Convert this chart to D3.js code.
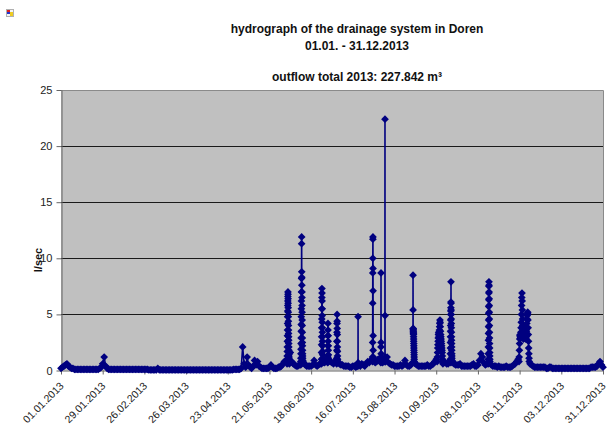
<!DOCTYPE html>
<html lang="en">
<head>
  <meta charset="UTF-8">
  <title>Hydrograph Doren 2013</title>
  <script src="https://d3js.org/d3.v7.min.js"></script>
  <style>
    body { margin: 0; background: #fff; }
    svg { font-family: Arial, "Liberation Sans", sans-serif; }
    .title { font-size: 12px; font-weight: bold; fill: #111; }
    .axis text { font-size: 11px; fill: #222; }
    .x-axis text { font-size: 10.5px; }
    .y-label { font-size: 11px; font-weight: bold; fill: #111; }
  </style>
</head>
<body>
  <svg id="chart" width="607" height="432"></svg>

  <script>
    // x axis tick dates (every 28 days)
    const tickDates = ["2013-01-01", "2013-01-29", "2013-02-26", "2013-03-26", "2013-04-23",
                       "2013-05-21", "2013-06-18", "2013-07-16", "2013-08-13", "2013-09-10",
                       "2013-10-08", "2013-11-05", "2013-12-03", "2013-12-31"];
    const yTicks = [0, 5, 10, 15, 20, 25];

    // daily base flow in l/sec, one value per day (Jan 1 .. Dec 31)
    const dailyFlow = [
      // Jan
      0.2,0.3,0.4,0.5,0.6,0.4,0.3,0.2,0.2,0.1, 0.1,0.1,0.1,0.1,0.1,0.1,0.1,0.1,0.1,0.1,
      0.1,0.1,0.1,0.1,0.1,0.1,0.2,0.3,0.6,1.2, 0.4,
      // Feb
      0.2,0.1,0.1,0.1,0.1,0.1,0.1,0.1,0.1,0.1, 0.1,0.1,0.1,0.1,0.1,0.1,0.1,0.1,0.1,0.1,
      0.1,0.1,0.1,0.1,0.1,0.1,0.1,0.1,
      // Mar
      0.05,0.05,0.05,0.05,0.05,0.05,0.2,0.05,0.05,0.05, 0.05,0.05,0.05,0.05,0.05,0.05,0.05,0.05,0.05,0.05,
      0.05,0.05,0.05,0.05,0.05,0.05,0.05,0.05,0.05,0.05, 0.05,
      // Apr
      0.05,0.05,0.05,0.05,0.05,0.05,0.05,0.05,0.05,0.05, 0.05,0.05,0.05,0.05,0.05,0.05,0.05,0.05,0.05,0.05,
      0.05,0.05,0.05,0.05,0.05,0.05,0.1,0.1,0.1,0.1,
      // May
      0.1,0.2,2.1,0.6,0.3,1.2,0.5,0.3,0.2,0.4, 0.9,0.5,0.8,0.4,0.3,0.2,0.2,0.2,0.2,0.2,
      0.3,0.5,0.3,0.2,0.2,0.2,0.3,0.3,0.4,0.6, 0.8,
      // Jun
      0.9,1.4,1.2,1.6,0.8,0.6,0.5,0.4,0.4,0.5, 0.6,1.0,0.7,0.5,0.4,0.4,0.4,0.4,0.5,0.9,
      0.5,0.4,0.5,0.6,1.2,0.9,0.7,0.8,1.0,0.9,
      // Jul
      0.8,0.7,0.6,0.7,1.0,0.8,0.6,0.5,0.5,0.4, 0.4,0.4,0.4,0.3,0.3,0.4,0.4,0.3,0.4,0.5,
      0.4,0.6,0.5,0.4,0.6,0.8,0.7,0.9,1.0,0.9, 0.7,
      // Aug
      0.8,1.0,0.9,0.8,0.7,0.9,0.8,1.2,0.7,0.6, 0.5,0.5,0.4,0.4,0.4,0.4,0.5,0.4,0.5,0.9,
      0.5,0.4,0.4,0.5,0.7,0.9,0.6,0.5,0.4,0.4, 0.4,
      // Sep
      0.4,0.4,0.4,0.5,0.4,0.4,0.5,0.6,0.8,1.0, 2.0,3.0,2.5,1.2,0.8,0.7,0.6,0.6,0.8,1.2,
      0.8,0.6,0.5,0.5,0.5,0.6,0.4,0.4,0.4,0.4,
      // Oct
      0.4,0.4,0.4,0.5,0.6,0.4,0.4,0.5,0.9,1.5, 1.2,0.7,0.5,0.6,1.0,0.8,0.5,0.4,0.4,0.4,
      0.3,0.4,0.3,0.3,0.3,0.3,0.4,0.3,0.3,0.3, 0.4,
      // Nov
      0.5,0.6,0.8,1.0,3.0,3.5,3.0,2.5,1.5,1.2, 0.9,0.6,0.5,0.4,0.3,0.3,0.3,0.3,0.3,0.3,
      0.3,0.3,0.2,0.2,0.3,0.3,0.2,0.2,0.2,0.2,
      // Dec
      0.2,0.2,0.2,0.2,0.2,0.2,0.2,0.2,0.2,0.2, 0.2,0.2,0.2,0.2,0.2,0.2,0.2,0.2,0.2,0.2,
      0.2,0.2,0.3,0.3,0.3,0.3,0.4,0.6,0.8,0.5, 0.3
    ];

    // rain events: start time, reading interval (hours) and readings in l/sec
    const eventStart = ["2013-06-01T20:00", "2013-06-11T00:00", "2013-06-24T21:00", "2013-06-29T03:00",
                        "2013-07-05T04:00", "2013-07-19T11:00", "2013-07-29T05:00", "2013-08-03T19:00",
                        "2013-08-06T13:00", "2013-08-25T09:00", "2013-09-10T15:00", "2013-09-19T09:00",
                        "2013-10-14T21:00", "2013-11-04T14:00"];
    const eventStepHours = [1, 1, 1, 1, 1, 1, 1, 1, 1, 1, 3, 1, 1, 3];
    const eventValues = [
      [0.6,0.9,1.3,1.7,2.1,2.6,3.1,3.6,4.2,4.8,5.3,5.8,6.2,6.6,7.0,6.8,6.4,6.0,5.6,5.2,4.8,4.4,4.0,3.6,3.3,3.0,2.7,2.4,2.1,1.8,1.6,1.4,1.2,1.0,0.9,0.8,0.7,0.6],
      [0.5,0.8,1.1,1.5,1.9,2.4,2.9,3.5,4.1,4.8,5.5,6.2,7.0,8.2,11.3,11.9,8.8,8.3,7.6,7.0,6.5,5.8,5.2,4.5,4.0,3.4,2.9,2.5,2.2,1.8,1.5,1.3,1.1,0.9,0.8,0.7],
      [0.6,1.0,1.6,2.3,3.0,3.8,4.6,5.5,6.5,7.3,6.9,6.2,5.5,4.9,4.3,3.8,3.4,3.0,2.6,2.2,1.7,1.4,1.1,0.9,0.7],
      [0.7,1.3,2.2,3.1,4.2,3.6,3.1,2.6,2.2,1.8,1.4,1.1,0.9,0.8],
      [0.6,1.1,1.8,2.6,3.4,4.2,5.0,4.4,3.75,3.2,2.6,2.1,1.7,1.3,1.0,0.8,0.7],
      [0.4,4.8,0.7,0.5],
      [0.8,1.2,2.5,6.0,8.7,10.0,11.7,11.9,9.1,7.1,3.1,1.8,1.2,0.9],
      [0.7,1.2,2.1,8.7,2.5,1.5,1.0,0.8],
      [0.8,22.4,4.9,1.2,0.8],
      [0.7,8.5,5.4,3.75,3.7,3.6,3.5,3.4,3.3,3.2,3.0,2.8,2.6,2.4,2.2,2.0,1.8,1.6,1.4,1.2,1.0,0.8,0.7],
      [0.8,1.2,1.6,2.0,2.3,2.6,2.9,3.2,3.4,3.2,3.0,3.3,3.6,3.9,4.2,4.5,4.3,3.9,3.5,3.2,3.0,2.8,2.6,2.4,2.2,2.0,1.8,1.6,1.3,1.0,0.8,0.6],
      [0.7,1.0,1.5,2.0,2.5,3.0,3.5,4.0,4.5,5.0,5.3,5.6,6.1,7.9,6.0,5.4,5.0,4.6,4.2,3.8,3.4,3.0,2.7,2.4,2.1,1.8,1.5,1.3,1.1,0.9,0.7],
      [0.6,1.0,1.5,2.1,2.7,3.3,3.9,4.5,5.1,5.7,6.3,6.9,7.5,7.9,7.6,7.0,6.4,5.8,5.2,4.6,4.0,3.4,2.9,2.4,2.0,1.6,1.3,1.0,0.8],
      [0.8,1.2,1.8,2.4,2.8,3.1,3.2,3.0,2.9,3.1,3.4,3.8,4.3,5.0,5.8,6.5,6.9,6.2,5.4,4.6,4.0,3.5,3.2,3.0,2.8,3.0,3.2,3.0,2.9,3.1,3.3,3.4,3.2,3.0,3.1,3.3,3.0,2.8,3.0,3.2,3.5,3.8,4.2,4.6,4.9,5.0,5.1,5.2,4.5,3.8,3.2,2.6,2.0,1.5,1.1,0.8]
    ];

    const svg = d3.select("#chart");
    const plotLeft = 61, plotRight = 603, plotTop = 90, plotBottom = 370.5;

    const parseDay = d3.timeParse("%Y-%m-%d");
    const parseTime = d3.timeParse("%Y-%m-%dT%H:%M");
    const firstDay = parseDay("2013-01-01");

    // build readings: daily values, replaced by event readings where events happen
    const events = eventStart.map((s, i) => {
      const t0 = parseTime(s);
      return eventValues[i].map((v, j) => ({ t: d3.timeHour.offset(t0, j * eventStepHours[i]), v: v }));
    });
    const spans = events.map(e => [e[0].t, e[e.length - 1].t]);
    const daily = dailyFlow
      .map((v, i) => ({ t: d3.timeDay.offset(firstDay, i), v: v }))
      .filter(d => !spans.some(s => d.t >= s[0] && d.t <= s[1]));
    const readings = daily.concat(...events).sort((a, b) => a.t - b.t);

    const x = d3.scaleTime()
      .domain([parseDay("2013-01-01"), parseDay("2013-12-31")])
      .range([plotLeft, plotRight]);
    const y = d3.scaleLinear().domain([0, 25]).range([plotBottom, plotTop]);

    // little image icon top-left
    svg.append("rect").attr("x", 6.5).attr("y", 9.5).attr("width", 7).attr("height", 7)
       .attr("fill", "#f4f4f4").attr("stroke", "#b0b0b0");
    svg.append("rect").attr("x", 7).attr("y", 10).attr("width", 3).attr("height", 3).attr("fill", "#d22");
    svg.append("rect").attr("x", 7).attr("y", 12).attr("width", 3).attr("height", 2).attr("fill", "#23c");
    svg.append("rect").attr("x", 10).attr("y", 12).attr("width", 3).attr("height", 4).attr("fill", "#ec2");

    // titles
    const titles = [["hydrograph of the drainage system in Doren", 33],
                    ["01.01. - 31.12.2013", 50],
                    ["outflow total 2013: 227.842 m\u00b3", 81]];
    svg.selectAll(".title").data(titles).join("text")
       .attr("class", "title")
       .attr("x", 357)
       .attr("y", d => d[1])
       .attr("text-anchor", "middle")
       .text(d => d[0]);

    // plot area
    svg.append("rect")
       .attr("x", plotLeft).attr("y", plotTop)
       .attr("width", plotRight - plotLeft).attr("height", plotBottom - plotTop)
       .attr("fill", "#c0c0c0");

    svg.append("g").selectAll("line").data(yTicks.slice(1, -1)).join("line")
       .attr("x1", plotLeft).attr("x2", plotRight)
       .attr("y1", d => Math.round(y(d)) + 0.5).attr("y2", d => Math.round(y(d)) + 0.5)
       .attr("stroke", "#1a1a1a").attr("stroke-width", 1);

    // frame top and right
    svg.append("path")
       .attr("d", `M${plotLeft},${plotTop + 0.5}H${plotRight + 0.5}V${plotBottom}`)
       .attr("fill", "none").attr("stroke", "#8a8a8a");

    // y axis
    const yAxis = svg.append("g")
      .attr("class", "axis")
      .attr("transform", `translate(${plotLeft + 0.5},0)`)
      .call(d3.axisLeft(y).tickValues(yTicks).tickSize(5).tickSizeOuter(0).tickPadding(4));
    yAxis.select(".domain").attr("stroke", "#666");
    yAxis.selectAll(".tick line").attr("stroke", "#666");

    svg.append("text")
       .attr("class", "y-label")
       .attr("transform", "translate(42,260) rotate(-90)")
       .attr("text-anchor", "middle")
       .text("l/sec");

    // x axis
    const xAxis = svg.append("g")
      .attr("class", "axis x-axis")
      .attr("transform", `translate(0,${plotBottom})`)
      .call(d3.axisBottom(x)
        .tickValues(tickDates.map(parseDay))
        .tickFormat(d3.timeFormat("%d.%m.%Y"))
        .tickSize(4).tickSizeOuter(0));
    xAxis.select(".domain").attr("stroke", "#666");
    xAxis.selectAll(".tick line").attr("stroke", "#666");
    xAxis.selectAll("text")
       .attr("x", 0).attr("y", 0).attr("dy", 0)
       .attr("transform", "translate(3,16) rotate(-45)")
       .style("text-anchor", "end");

    // series line + diamond markers
    const line = d3.line().x(d => x(d.t)).y(d => y(d.v));
    svg.append("path")
       .datum(readings)
       .attr("d", line)
       .attr("fill", "none")
       .attr("stroke", "#000080")
       .attr("stroke-width", 1.6);

    const diamond = d3.symbol(d3.symbolSquare, 30);
    svg.append("g").selectAll("path").data(readings).join("path")
       .attr("d", diamond)
       .attr("transform", d => `translate(${x(d.t)},${y(d.v)}) rotate(45)`)
       .attr("fill", "#000080");
  </script>
</body>
</html>
